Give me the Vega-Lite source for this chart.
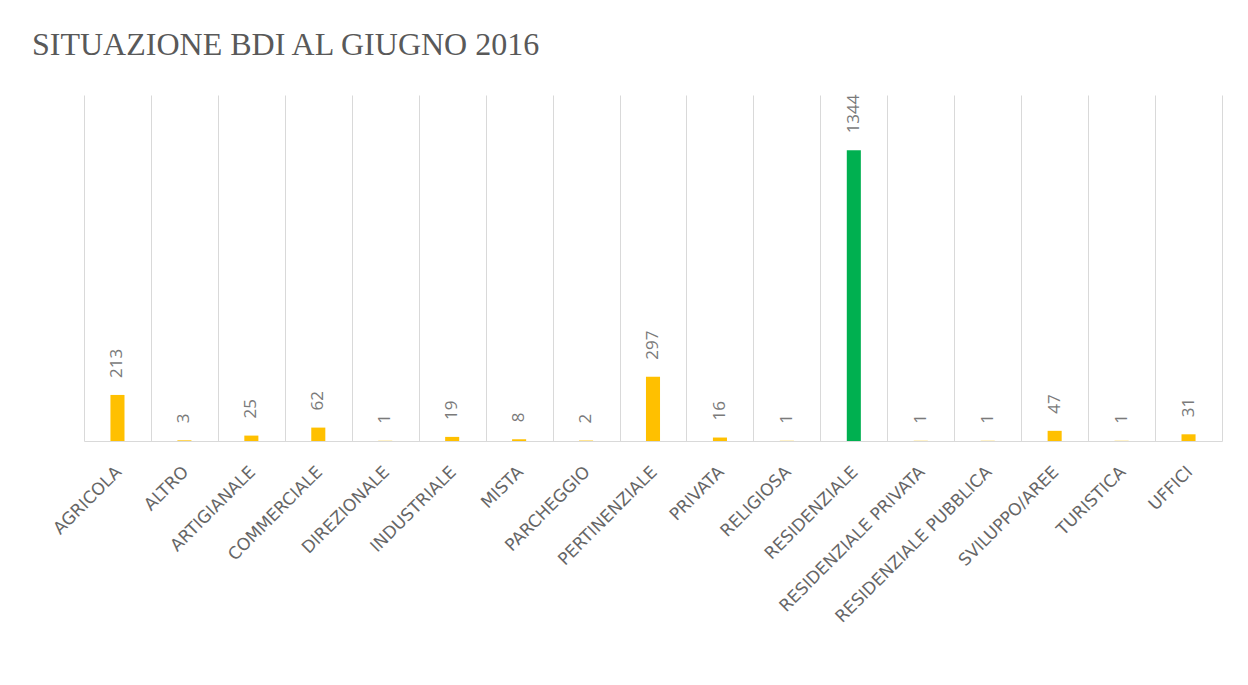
{
  "$schema": "https://vega.github.io/schema/vega-lite/v6.json",
  "autosize": "none",
  "width": 1138,
  "height": 346,
  "padding": {"left": 84, "top": 95, "right": 26, "bottom": 244},
  "background": "white",
  "title": {
    "text": "SITUAZIONE BDI AL GIUGNO 2016",
    "anchor": "start",
    "frame": "group",
    "font": "Liberation Serif",
    "fontSize": 32,
    "fontWeight": "normal",
    "color": "#595959",
    "baseline": "alphabetic",
    "offset": 7,
    "dx": -52
  },
  "data": {
    "values": [
      {"Categoria": "AGRICOLA", "Numero": 213},
      {"Categoria": "ALTRO", "Numero": 3},
      {"Categoria": "ARTIGIANALE", "Numero": 25},
      {"Categoria": "COMMERCIALE", "Numero": 62},
      {"Categoria": "DIREZIONALE", "Numero": 1},
      {"Categoria": "INDUSTRIALE", "Numero": 19},
      {"Categoria": "MISTA", "Numero": 8},
      {"Categoria": "PARCHEGGIO", "Numero": 2},
      {"Categoria": "PERTINENZIALE", "Numero": 297},
      {"Categoria": "PRIVATA", "Numero": 16},
      {"Categoria": "RELIGIOSA", "Numero": 1},
      {"Categoria": "RESIDENZIALE", "Numero": 1344},
      {"Categoria": "RESIDENZIALE PRIVATA", "Numero": 1},
      {"Categoria": "RESIDENZIALE PUBBLICA", "Numero": 1},
      {"Categoria": "SVILUPPO/AREE", "Numero": 47},
      {"Categoria": "TURISTICA", "Numero": 1},
      {"Categoria": "UFFICI", "Numero": 31}
    ]
  },
  "encoding": {
    "x": {
      "field": "Categoria",
      "type": "nominal",
      "sort": null,
      "scale": {"paddingInner": 0, "paddingOuter": 0},
      "axis": {
        "title": null,
        "tickBand": "extent",
        "ticks": false,
        "grid": true,
        "gridColor": "#d9d9d9",
        "gridWidth": 1,
        "domainColor": "#d9d9d9",
        "domainWidth": 1,
        "labelAngle": -45,
        "labelAlign": "right",
        "labelBaseline": "middle",
        "labelPadding": 28,
        "labelOffset": 1,
        "labelFont": "DejaVu Sans",
        "labelFontSize": 17,
        "labelColor": "#666666",
        "labelOverlap": false,
        "labelLimit": 400
      }
    },
    "y": {
      "field": "Numero",
      "type": "quantitative",
      "scale": {"domain": [0, 1600], "nice": false},
      "axis": null
    }
  },
  "layer": [
    {
      "mark": {"type": "bar", "width": {"band": 0.21}},
      "encoding": {
        "color": {
          "condition": {"test": "datum.Categoria === 'RESIDENZIALE'", "value": "#00B050"},
          "value": "#FFC000"
        }
      }
    },
    {
      "mark": {
        "type": "text",
        "angle": 270,
        "align": "left",
        "baseline": "middle",
        "dx": 17,
        "font": "Open Sans",
        "fontSize": 17,
        "color": "#7a7a7a"
      },
      "encoding": {
        "text": {"field": "Numero", "type": "quantitative"}
      }
    }
  ],
  "config": {
    "view": {"stroke": null}
  }
}
